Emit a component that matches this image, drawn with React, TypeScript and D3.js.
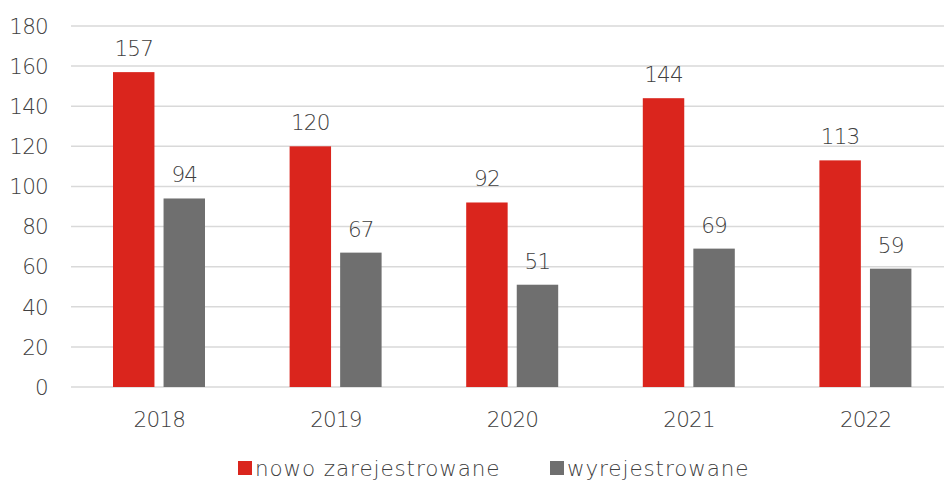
import React, { useEffect, useRef } from 'react';
import * as d3 from 'd3';

const years = ['2018', '2019', '2020', '2021', '2022'];
const seriesNames = ['nowo zarejestrowane', 'wyrejestrowane'];
const registered = [157, 120, 92, 144, 113];
const deregistered = [94, 67, 51, 69, 59];
const yTicks = [0, 20, 40, 60, 80, 100, 120, 140, 160, 180];

const colors = ['#DA251D', '#6F6F6F'];
const textColor = '#404040';
const font = '"DejaVu Sans", sans-serif';

const App = () => {
  const ref = useRef<SVGSVGElement | null>(null);

  useEffect(() => {
    const svg = d3.select(ref.current);
    svg.selectAll('*').remove();

    const W = 944;
    const left = 71;
    const right = 954; // plot runs a little past the visible edge

    const x0 = d3.scaleBand<string>().domain(years).range([left, right]).padding(0);
    const x1 = d3.scaleBand<string>().domain(seriesNames).range([42, 134]).paddingInner(0.18);
    const y = d3.scaleLinear().domain([0, 180]).range([387, 26]);

    const txt = (sel: any) =>
      sel.attr('fill', textColor)
        .style('font-family', font)
        .style('font-weight', 200)
        .style('font-size', '21.5px');

    // gridlines
    svg.append('g')
      .selectAll('line')
      .data(yTicks)
      .join('line')
      .attr('x1', left)
      .attr('x2', W)
      .attr('y1', d => y(d))
      .attr('y2', d => y(d))
      .attr('stroke', '#D9D9D9')
      .attr('stroke-width', 1.5);

    // y labels
    svg.append('g')
      .selectAll('text')
      .data(yTicks)
      .join('text')
      .attr('x', 48)
      .attr('y', d => y(d))
      .attr('dy', '0.36em')
      .attr('text-anchor', 'end')
      .call(txt)
      .style('letter-spacing', '-0.8px')
      .text(d => d);

    const rows = years.map((yr, i) => ({ yr, vals: [registered[i], deregistered[i]] }));

    const groups = svg.append('g')
      .selectAll('g')
      .data(rows)
      .join('g')
      .attr('transform', d => `translate(${x0(d.yr)},0)`);

    groups.selectAll('rect')
      .data(d => d.vals.map((v, j) => ({ v, s: seriesNames[j], j })))
      .join('rect')
      .attr('x', d => x1(d.s)!)
      .attr('width', x1.bandwidth())
      .attr('y', d => y(d.v))
      .attr('height', d => y(0) - y(d.v))
      .attr('fill', d => colors[d.j]);

    groups.selectAll('text.val')
      .data(d => d.vals.map((v, j) => ({ v, s: seriesNames[j] })))
      .join('text')
      .attr('class', 'val')
      .attr('x', d => x1(d.s)! + x1.bandwidth() / 2)
      .attr('y', d => y(d.v) - 16)
      .attr('text-anchor', 'middle')
      .call(txt)
      .style('letter-spacing', '-0.8px')
      .text(d => d.v);

    // x labels
    svg.append('g')
      .selectAll('text')
      .data(years)
      .join('text')
      .attr('x', d => x0(d)! + x0.bandwidth() / 2)
      .attr('y', 427)
      .attr('text-anchor', 'middle')
      .call(txt)
      .style('letter-spacing', '-0.8px')
      .text(d => d);

    // legend
    const legendX = [238, 550];
    const legend = svg.append('g')
      .selectAll('g')
      .data(seriesNames)
      .join('g')
      .attr('transform', (d, i) => `translate(${legendX[i]},461)`);
    legend.append('rect')
      .attr('width', 14)
      .attr('height', 14)
      .attr('fill', (d, i) => colors[i]);
    legend.append('text')
      .attr('x', 17)
      .attr('y', 15)
      .call(txt)
      .style('letter-spacing', '0.9px')
      .text(d => d);
  }, []);

  return (
    <svg
      ref={ref}
      width={944}
      height={482}
      style={{ position: 'absolute', left: 0, top: 0, background: '#fff' }}
    />
  );
};

export default App;
